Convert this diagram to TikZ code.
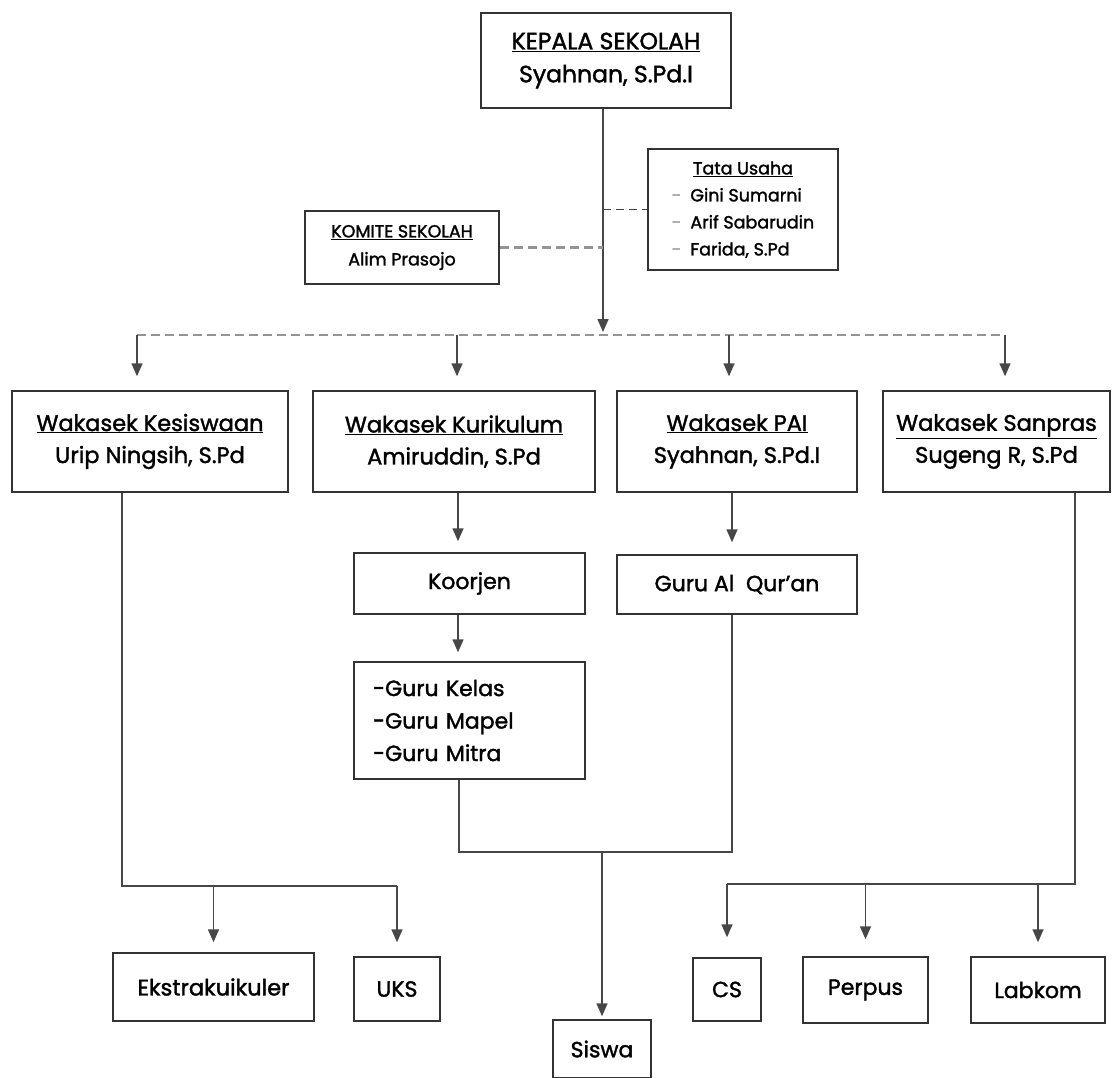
\documentclass[tikz,border=0pt]{standalone}
\usepackage{fontspec}
\setmainfont{Poppins}[FakeBold=1.6]
\usetikzlibrary{arrows.meta}
\newcommand\myfs[2]{\fontsize{#1}{#2}\selectfont}
\begin{document}
\begin{tikzpicture}[x=1pt,y=-1pt,
  box/.style={draw=black!80, line width=1.5pt, inner sep=0pt, align=center, text=black},
  conn/.style={draw=black!72, line width=1.5pt},
  arr/.style={conn, -{Triangle[length=13pt,width=11pt]}},
  dsh/.style={draw=black!42, line width=2.8pt, dash pattern=on 9pt off 5pt},
  dshk/.style={draw=black!75, line width=1.8pt, dash pattern=on 8pt off 5pt},
]
\useasboundingbox (0,0) rectangle (1115,1077);
\fill[white] (0,0) rectangle (1115,1077);

% top boxes
\node[box, minimum width=250, minimum height=95, font=\myfs{23.5}{33}] (kep) at (606,60.5)
  {\underline{KEPALA SEKOLAH}\\Syahnan, S.Pd.I};
\node[box, minimum width=190, minimum height=121, font=\myfs{17.5}{27}] (tu) at (743,209.5)
  {\begin{tabular}{@{}l@{\hspace{9pt}}l@{}}
   \multicolumn{2}{c}{\underline{Tata Usaha}}\\
   \textcolor{black!40}{-} & Gini Sumarni\\
   \textcolor{black!40}{-} & Arif Sabarudin\\
   \textcolor{black!40}{-} & Farida, S.Pd
   \end{tabular}};
\node[box, minimum width=194, minimum height=73, font=\myfs{17.5}{28}] (kom) at (402,247.5)
  {\underline{KOMITE SEKOLAH}\\Alim Prasojo};

% wakasek row
\node[box, minimum width=276, minimum height=101, font=\myfs{22.5}{32}] (kes) at (150,441.5)
  {\underline{Wakasek Kesiswaan}\\Urip Ningsih, S.Pd};
\node[box, minimum width=282, minimum height=101, font=\myfs{22.5}{32}] (kur) at (454,441.5)
  {\underline{Wakasek Kurikulum}\\Amiruddin, S.Pd};
\node[box, minimum width=240, minimum height=101, font=\myfs{22.5}{32}] (pai) at (737,441.5)
  {\underline{Wakasek PAI}\\Syahnan, S.Pd.I};
\node[box, minimum width=227, minimum height=101, font=\myfs{22.5}{32}] (san) at (996.5,441.5)
  {\underline{Wakasek Sanpras}\\Sugeng R, S.Pd};

% middle
\node[box, minimum width=231, minimum height=61, font=\myfs{22}{32}] (koor) at (469.5,583.5) {Koorjen};
\node[box, minimum width=240, minimum height=59, font=\myfs{22}{32}] (gaq) at (737,584.5) {Guru Al\ \ Qur’an};
\node[box, minimum width=231, minimum height=117, text width=193, inner xsep=19, align=left, font=\myfs{22}{32.5}] (guru) at (469.5,720.5)
  {-Guru Kelas\\-Guru Mapel\\-Guru Mitra};

% bottom
\node[box, minimum width=201, minimum height=68, font=\myfs{22.5}{30}] (eks) at (213.5,987) {Ekstrakuikuler};
\node[box, minimum width=86, minimum height=64, font=\myfs{22}{30}] (uks) at (397,989) {UKS};
\node[box, minimum width=98, minimum height=58, font=\myfs{22}{30}] (sis) at (602,1049) {Siswa};
\node[box, minimum width=68, minimum height=63, font=\myfs{22}{30}] (cs) at (727,989.5) {CS};
\node[box, minimum width=125, minimum height=66, font=\myfs{22}{30}] (per) at (865.5,990) {Perpus};
\node[box, minimum width=134, minimum height=66, font=\myfs{22}{30}] (lab) at (1038,990) {Labkom};

% coordinates
\coordinate (vk) at (603,335);
\coordinate (d1) at (137,335);
\coordinate (d2) at (457,335);
\coordinate (d3) at (729,335);
\coordinate (d4) at (1005,335);

% main trunk and side links
\draw[arr, shorten >=3pt] (kep.south -| vk) -- (vk);
\draw[dshk] (vk |- tu.west) -- (tu.west);
\draw[dsh, line width=2.2pt] (kom.east) -- (kom.east -| vk);
\draw[dsh] (d1) -- (d4);
\draw[arr, shorten >=14pt] (d1) -- (d1 |- kes.north);
\draw[arr, shorten >=14pt] (d2) -- (d2 |- kur.north);
\draw[arr, shorten >=14pt] (d3) -- (d3 |- pai.north);
\draw[arr, shorten >=14pt] (d4) -- (d4 |- san.north);

% kurikulum / PAI chain
\coordinate (c1) at (458,0);
\coordinate (c2) at (732,0);
\draw[arr, shorten >=11pt] (kur.south -| c1) -- (koor.north -| c1);
\draw[arr, shorten >=9pt] (koor.south -| c1) -- (guru.north -| c1);
\draw[arr, shorten >=12pt] (pai.south -| c2) -- (gaq.north -| c2);
\coordinate (jn) at (602,852);
\draw[conn] (guru.south -| 459,0) -- (459,852) -- (jn -| c2) -- (gaq.south -| c2);
\draw[arr, shorten >=3pt] (jn) -- (sis.north);

% kesiswaan branch
\coordinate (kb) at (122,886);
\draw[conn] (kes.south -| kb) -- (kb) -- (kb -| uks.north);
\draw[arr, shorten >=14pt] (kb -| uks.north) -- (uks.north);
\draw[arr, shorten >=10pt] (kb -| eks.north) -- (eks.north);

% sanpras branch
\coordinate (sb) at (1075,884);
\draw[conn] (san.south -| sb) -- (sb) -- (sb -| cs.north);
\draw[arr, shorten >=20pt] (sb -| cs.north) -- (cs.north);
\draw[arr, shorten >=17pt] (sb -| per.north) -- (per.north);
\draw[arr, shorten >=14pt] (sb -| lab.north) -- (lab.north);
\end{tikzpicture}
\end{document}
